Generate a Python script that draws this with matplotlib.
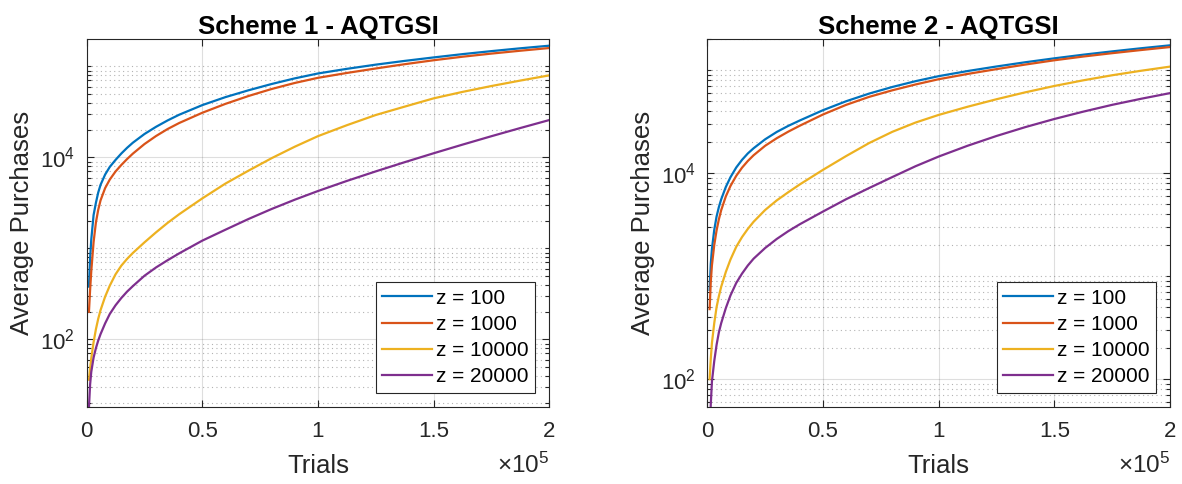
import numpy as np
import matplotlib
matplotlib.use("Agg")
import matplotlib.pyplot as plt
from matplotlib.ticker import FixedLocator, LogLocator, NullFormatter, LogFormatterMathtext

plt.rcParams['font.family'] = ['Liberation Sans', 'DejaVu Sans']
plt.rcParams['mathtext.fontset'] = 'custom'
plt.rcParams['mathtext.rm'] = 'Liberation Sans'
plt.rcParams['mathtext.it'] = 'Liberation Sans:italic'
plt.rcParams['mathtext.bf'] = 'Liberation Sans:bold'

# ---- data ----
trials = [1000, 1500, 2000, 3000, 4000, 5000, 6000, 8000, 10000, 12500,
          15000, 17500, 20000, 25000, 30000, 35000, 40000, 50000, 60000, 70000,
          80000, 90000, 100000, 112500, 125000, 137500, 150000, 162500, 175000,
          187500, 200000]

labels = ['z = 100', 'z = 1000', 'z = 10000', 'z = 20000']

# Scheme 1
s1_z100 = [380, 780, 1250, 2320, 3160, 4100, 4980, 6480, 7850, 9380,
           11030, 12740, 14500, 18050, 21660, 25450, 29400, 37500, 45900, 54600,
           64000, 73800, 83500, 93900, 104400, 114800, 125300, 136200, 147000,
           157900, 168600]
s1_z1000 = [201, 350, 560, 1170, 1920, 2650, 3360, 4600, 5700, 7000,
            8250, 9590, 11000, 14000, 17160, 20480, 23840, 30900, 38700, 47250,
            56400, 65700, 74800, 84600, 94750, 105600, 116700, 127600, 138100,
            148500, 159000]
s1_z10000 = [36, 48, 62, 93, 129, 168, 209, 295, 389, 519,
             646, 767, 891, 1164, 1500, 1905, 2371, 3540, 5150, 7150,
             9800, 13100, 17100, 22560, 29200, 36100, 44500, 52400, 60800,
             69800, 79600]
s1_z20000 = [18, 32, 44, 63, 80, 97, 114, 150, 190, 237,
             285, 335, 385, 500, 617, 741, 881, 1216, 1603, 2104,
             2710, 3428, 4266, 5508, 7015, 8851, 11090, 13800, 17080,
             21010, 25700]

# Scheme 2
s2_z100 = [736, 1320, 1840, 2820, 3800, 4700, 5580, 7360, 9150, 11380,
           13500, 15580, 17500, 21380, 25200, 28880, 32600, 41000, 50100, 59500,
           68960, 78480, 87800, 98440, 109000, 119900, 130800, 141900, 152800,
           163900, 175000]
s2_z1000 = [479, 885, 1280, 2010, 2780, 3575, 4380, 5960, 7520, 9440,
            11330, 13160, 14960, 18500, 21900, 25380, 29000, 37250, 46200, 55300,
            64000, 72900, 82000, 92250, 102750, 113850, 125250, 136200, 146800,
            157500, 168400]
s2_z10000 = [100, 158, 225, 350, 500, 640, 790, 1100, 1450, 1930,
             2400, 2880, 3380, 4400, 5450, 6550, 7800, 10800, 14700, 19700,
             25300, 31100, 36900, 44300, 52400, 61200, 70500, 80000, 89600,
             99100, 108700]
s2_z20000 = [30, 57, 95, 150, 215, 285, 350, 490, 650, 860,
             1060, 1270, 1480, 1880, 2300, 2740, 3200, 4250, 5600, 7200,
             9200, 11710, 14540, 18510, 23040, 28110, 33690, 39700, 46240,
             52950, 60080]

titles = ['Scheme 1 - AQTGSI', 'Scheme 2 - AQTGSI']
xtick_vals = [0, 50000, 100000, 150000, 200000]
xtick_labels = ['0', '0.5', '1', '1.5', '2']
ylims = [(18.2, 1.98e5), (54, 2.0e5)]

colors = ['#0072BD', '#D95319', '#EDB120', '#7E2F8E']
axcol = '#262626'

fig = plt.figure(figsize=(11.82, 4.84), dpi=100)
ax1 = fig.add_axes([0.0733, 0.1597, 0.3914, 0.759])
ax2 = fig.add_axes([0.5984, 0.1597, 0.3915, 0.759])

schemes = [[s1_z100, s1_z1000, s1_z10000, s1_z20000],
           [s2_z100, s2_z1000, s2_z10000, s2_z20000]]

for ax, series, title, yl in zip([ax1, ax2], schemes, titles, ylims):
    for vals, lab, c in zip(series, labels, colors):
        ax.plot(trials, vals, color=c, lw=1.6, label=lab)
    ax.set_yscale('log')
    ax.set_xlim(0, 200000)
    ax.set_ylim(*yl)

    ax.xaxis.set_major_locator(FixedLocator(xtick_vals))
    ax.set_xticklabels(xtick_labels)
    ax.yaxis.set_major_locator(FixedLocator([1e2, 1e4]))
    ax.yaxis.set_major_formatter(LogFormatterMathtext())
    ax.yaxis.set_minor_locator(LogLocator(base=10, subs=np.arange(1, 10), numticks=20))
    ax.yaxis.set_minor_formatter(NullFormatter())

    ax.grid(True, which='major', color=axcol, alpha=0.15, lw=0.8, ls='-')
    ax.grid(True, which='minor', axis='y', color=axcol, alpha=0.35, lw=0.8, ls=(0, (1, 3)))
    ax.set_axisbelow(True)

    ax.tick_params(which='both', direction='in', top=True, right=True,
                   colors=axcol, labelsize=16, width=0.8)
    ax.tick_params(which='major', length=5)
    ax.tick_params(which='minor', length=3)
    ax.tick_params(axis='x', pad=10)
    ax.tick_params(axis='y', pad=8.3)
    for sp in ax.spines.values():
        sp.set_color(axcol)
        sp.set_linewidth(0.8)

    ax.set_title(title, fontsize=18.5, fontweight='bold', color='black', pad=0.5)
    ax.set_xlabel('Trials', fontsize=18.5, color=axcol, labelpad=9)
    ax.set_ylabel('Average Purchases', fontsize=18.5, color=axcol, labelpad=4.3)
    ax.text(1.0, -0.159, r'$\times10^{5}$', transform=ax.transAxes,
            ha='right', va='center', fontsize=17.5, color=axcol)

    leg = ax.legend(loc='lower right', fontsize=15, handlelength=2.4,
                    frameon=True, fancybox=False, borderaxespad=0.67,
                    borderpad=0.3, labelspacing=0.35, handletextpad=0.2)
    leg.get_frame().set_edgecolor(axcol)
    leg.get_frame().set_linewidth(0.8)
    leg.get_frame().set_alpha(1)

fig.savefig('out.png', dpi=100)
